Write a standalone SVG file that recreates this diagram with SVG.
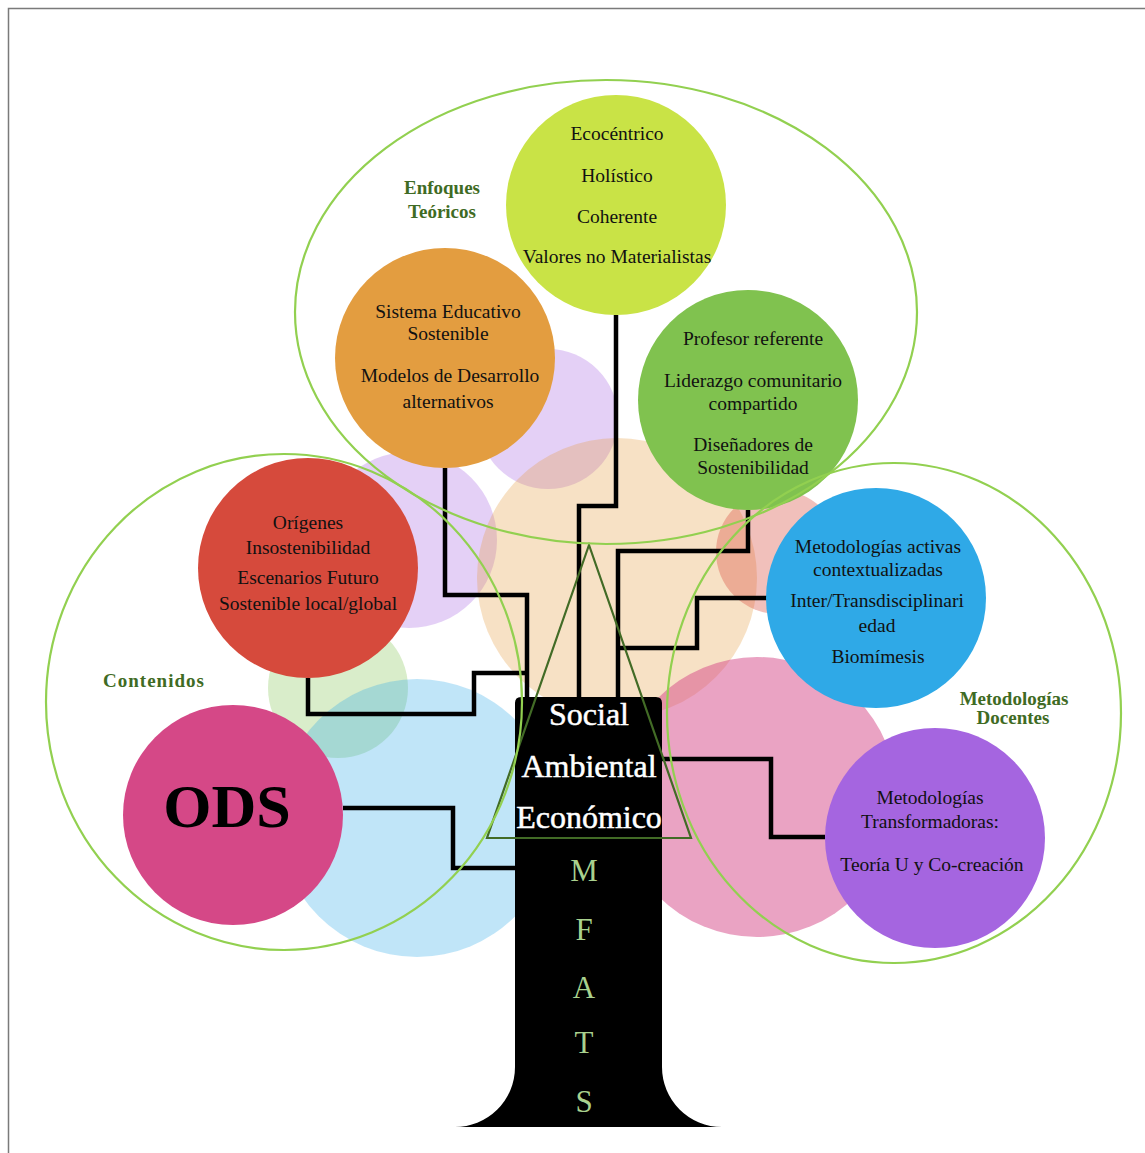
<svg xmlns="http://www.w3.org/2000/svg" width="1145" height="1153" viewBox="0 0 1145 1153">
<style>
.t{font-family:"Liberation Serif","DejaVu Serif",serif;font-size:19.5px;fill:#111;text-anchor:middle}
.lbl{font-family:"Liberation Serif","DejaVu Serif",serif;font-weight:bold;fill:#3f6b24;text-anchor:middle;font-size:19px}
.conn{fill:none;stroke:#000;stroke-width:4.5;stroke-linejoin:miter;stroke-linecap:butt}
.ring{fill:none;stroke:#92d050;stroke-width:2.2}
.trunkT{font-family:"Liberation Serif","DejaVu Serif",serif;font-size:32px;fill:#fff;stroke:#fff;stroke-width:0.5;text-anchor:middle}
.mf{font-family:"Liberation Serif","DejaVu Serif",serif;font-size:31px;fill:#a9d18e;text-anchor:middle}
</style>
<rect width="1145" height="1153" fill="#fff"/>
<path d="M8.5,1153 V8.5 H1145" fill="none" stroke="#7a7a7a" stroke-width="1.5"/>

<g id="background">
<circle cx="409" cy="540" r="88" fill="#a565e0" fill-opacity="0.3"/>
<circle cx="548" cy="419" r="70" fill="#a565e0" fill-opacity="0.3"/>
<circle cx="617" cy="578" r="140" fill="#e39d40" fill-opacity="0.3"/>
<circle cx="778" cy="552" r="62" fill="#d64a3c" fill-opacity="0.35"/>
<circle cx="757" cy="797" r="140" fill="#d54887" fill-opacity="0.5"/>
<circle cx="338" cy="688" r="70" fill="#80c24f" fill-opacity="0.3"/>
<circle cx="417" cy="818" r="139" fill="#2fa9e7" fill-opacity="0.3"/>
</g>

<g id="connectors">
<path class="conn" d="M616,315 V506 H579 V697"/>
<path class="conn" d="M445,468 V595 H527 V697"/>
<path class="conn" d="M308,678 V714 H474 V673 H527"/>
<path class="conn" d="M343,808 H453 V868 H515"/>
<path class="conn" d="M748,510 V551 H618 V697"/>
<path class="conn" d="M767,598 H697 V648 H618"/>
<path class="conn" d="M825,837 H771 V759 H662"/>
</g>

<g id="node-enfoques-centro">
<circle cx="616" cy="205" r="110" fill="#c9e346"/>
<text class="t" x="617" y="140">Ecocéntrico</text>
<text class="t" x="617" y="182">Holístico</text>
<text class="t" x="617" y="223">Coherente</text>
<text class="t" x="617" y="263">Valores no Materialistas</text>
</g>
<g id="node-sistema">
<circle cx="445" cy="358" r="110" fill="#e39d40"/>
<text class="t" x="448" y="318">Sistema Educativo</text>
<text class="t" x="448" y="340">Sostenible</text>
<text class="t" x="450" y="382">Modelos de Desarrollo</text>
<text class="t" x="448" y="408">alternativos</text>
</g>
<g id="node-profesor">
<circle cx="748" cy="400" r="110" fill="#80c24f"/>
<text class="t" x="753" y="345">Profesor referente</text>
<text class="t" x="753" y="387">Liderazgo comunitario</text>
<text class="t" x="753" y="410">compartido</text>
<text class="t" x="753" y="451">Diseñadores de</text>
<text class="t" x="753" y="474">Sostenibilidad</text>
</g>
<g id="node-origenes">
<circle cx="308" cy="568" r="110" fill="#d64a3c"/>
<text class="t" x="308" y="529">Orígenes</text>
<text class="t" x="308" y="554">Insostenibilidad</text>
<text class="t" x="308" y="584">Escenarios Futuro</text>
<text class="t" x="308" y="610">Sostenible local/global</text>
</g>
<g id="node-metodologias-activas">
<circle cx="876" cy="598" r="110" fill="#2fa9e7"/>
<text class="t" x="878" y="553">Metodologías activas</text>
<text class="t" x="878" y="576">contextualizadas</text>
<text class="t" x="877" y="607">Inter/Transdisciplinari</text>
<text class="t" x="877" y="632">edad</text>
<text class="t" x="878" y="663">Biomímesis</text>
</g>
<g id="node-ods">
<circle cx="233" cy="815" r="110" fill="#d54887"/>
<text x="227" y="827" font-family="Liberation Serif, DejaVu Serif, serif" font-size="62" font-weight="bold" fill="#000" text-anchor="middle">ODS</text>
</g>
<g id="node-transformadoras">
<circle cx="935" cy="838" r="110" fill="#a565e0"/>
<text class="t" x="930" y="804">Metodologías</text>
<text class="t" x="930" y="828">Transformadoras:</text>
<text class="t" x="932" y="871">Teoría U y Co-creación</text>
</g>

<g id="trunk">
<path d="M515,703 Q515,697 521,697 L656,697 Q662,697 662,703 L662,1067 A60,60 0 0 0 722,1127 L454,1127 A60,60 0 0 0 515,1067 Z" fill="#000"/>
<text class="trunkT" x="589" y="725">Social</text>
<text class="trunkT" x="589" y="777">Ambiental</text>
<text class="trunkT" x="589" y="828">Económico</text>
<text class="mf" x="584" y="881">M</text>
<text class="mf" x="584" y="940">F</text>
<text class="mf" x="584" y="998">A</text>
<text class="mf" x="584" y="1053">T</text>
<text class="mf" x="584" y="1112">S</text>
</g>

<g id="triangle">
<polygon points="589,545 487,838 691,838" fill="none" stroke="#426b26" stroke-width="2.2" stroke-linejoin="miter"/>
</g>

<g id="groups">
<ellipse class="ring" cx="606" cy="312" rx="311" ry="232"/>
<ellipse class="ring" cx="284" cy="702" rx="238" ry="248"/>
<ellipse class="ring" cx="894" cy="713" rx="227" ry="250"/>
</g>

<g id="labels">
<text class="lbl" x="442" y="194">Enfoques</text>
<text class="lbl" x="442" y="218">Teóricos</text>
<text class="lbl" x="154" y="687" font-size="22.5" letter-spacing="1">Contenidos</text>
<text class="lbl" x="1014" y="705">Metodologías</text>
<text class="lbl" x="1013" y="724">Docentes</text>
</g>
</svg>
